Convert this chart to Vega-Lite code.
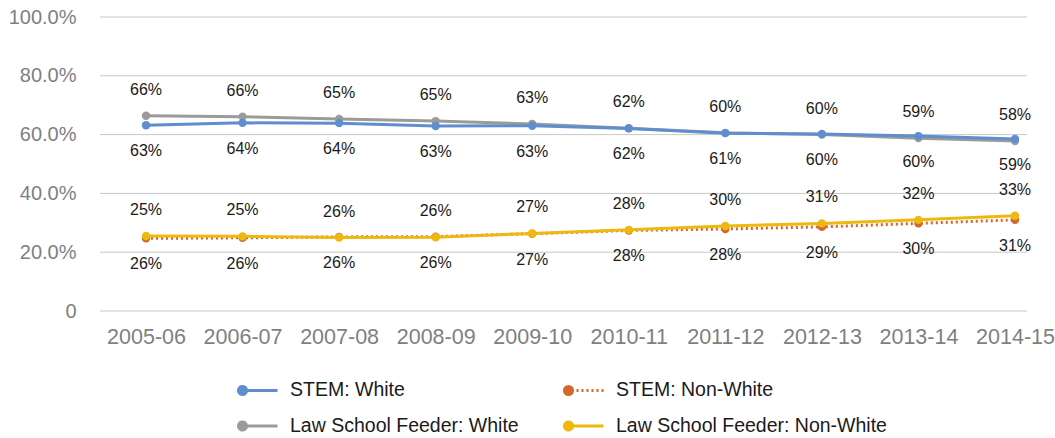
{
  "$schema": "https://vega.github.io/schema/vega-lite/v6.json",
  "width": 927,
  "height": 294,
  "autosize": {"type": "none"},
  "padding": {"left": 100, "top": 17, "right": 28, "bottom": 127},
  "background": "white",
  "config": {
    "view": {"stroke": null},
    "font": "Liberation Sans"
  },
  "datasets": {
    "grid": [{"tick": 0}, {"tick": 0.2}, {"tick": 0.4}, {"tick": 0.6}, {"tick": 0.8}, {"tick": 1}],
    "main": [
      {"year": "2005-06", "series": "STEM: White", "value": 0.632, "label": 0.63},
      {"year": "2006-07", "series": "STEM: White", "value": 0.640, "label": 0.64},
      {"year": "2007-08", "series": "STEM: White", "value": 0.639, "label": 0.64},
      {"year": "2008-09", "series": "STEM: White", "value": 0.629, "label": 0.63},
      {"year": "2009-10", "series": "STEM: White", "value": 0.630, "label": 0.63},
      {"year": "2010-11", "series": "STEM: White", "value": 0.621, "label": 0.62},
      {"year": "2011-12", "series": "STEM: White", "value": 0.605, "label": 0.61},
      {"year": "2012-13", "series": "STEM: White", "value": 0.602, "label": 0.60},
      {"year": "2013-14", "series": "STEM: White", "value": 0.595, "label": 0.60},
      {"year": "2014-15", "series": "STEM: White", "value": 0.585, "label": 0.59},
      {"year": "2005-06", "series": "Law School Feeder: White", "value": 0.664, "label": 0.66},
      {"year": "2006-07", "series": "Law School Feeder: White", "value": 0.661, "label": 0.66},
      {"year": "2007-08", "series": "Law School Feeder: White", "value": 0.653, "label": 0.65},
      {"year": "2008-09", "series": "Law School Feeder: White", "value": 0.646, "label": 0.65},
      {"year": "2009-10", "series": "Law School Feeder: White", "value": 0.636, "label": 0.63},
      {"year": "2010-11", "series": "Law School Feeder: White", "value": 0.622, "label": 0.62},
      {"year": "2011-12", "series": "Law School Feeder: White", "value": 0.606, "label": 0.60},
      {"year": "2012-13", "series": "Law School Feeder: White", "value": 0.600, "label": 0.60},
      {"year": "2013-14", "series": "Law School Feeder: White", "value": 0.588, "label": 0.59},
      {"year": "2014-15", "series": "Law School Feeder: White", "value": 0.578, "label": 0.58},
      {"year": "2005-06", "series": "STEM: Non-White", "value": 0.247, "label": 0.26},
      {"year": "2006-07", "series": "STEM: Non-White", "value": 0.249, "label": 0.26},
      {"year": "2007-08", "series": "STEM: Non-White", "value": 0.252, "label": 0.26},
      {"year": "2008-09", "series": "STEM: Non-White", "value": 0.253, "label": 0.26},
      {"year": "2009-10", "series": "STEM: Non-White", "value": 0.263, "label": 0.27},
      {"year": "2010-11", "series": "STEM: Non-White", "value": 0.274, "label": 0.28},
      {"year": "2011-12", "series": "STEM: Non-White", "value": 0.279, "label": 0.28},
      {"year": "2012-13", "series": "STEM: Non-White", "value": 0.286, "label": 0.29},
      {"year": "2013-14", "series": "STEM: Non-White", "value": 0.298, "label": 0.30},
      {"year": "2014-15", "series": "STEM: Non-White", "value": 0.310, "label": 0.31},
      {"year": "2005-06", "series": "Law School Feeder: Non-White", "value": 0.255, "label": 0.25},
      {"year": "2006-07", "series": "Law School Feeder: Non-White", "value": 0.254, "label": 0.25},
      {"year": "2007-08", "series": "Law School Feeder: Non-White", "value": 0.250, "label": 0.26},
      {"year": "2008-09", "series": "Law School Feeder: Non-White", "value": 0.251, "label": 0.26},
      {"year": "2009-10", "series": "Law School Feeder: Non-White", "value": 0.264, "label": 0.27},
      {"year": "2010-11", "series": "Law School Feeder: Non-White", "value": 0.276, "label": 0.28},
      {"year": "2011-12", "series": "Law School Feeder: Non-White", "value": 0.289, "label": 0.30},
      {"year": "2012-13", "series": "Law School Feeder: Non-White", "value": 0.298, "label": 0.31},
      {"year": "2013-14", "series": "Law School Feeder: Non-White", "value": 0.310, "label": 0.32},
      {"year": "2014-15", "series": "Law School Feeder: Non-White", "value": 0.324, "label": 0.33}
    ]
  },
  "layer": [
    {
      "data": {"name": "grid"},
      "mark": {"type": "rule", "color": "#c8c8c8", "strokeWidth": 1},
      "encoding": {
        "y": {
          "field": "tick", "type": "quantitative",
          "scale": {"domain": [0, 1], "nice": false},
          "axis": {"title": null, "values": [0, 0.2, 0.4, 0.6, 0.8, 1],
                   "labelExpr": "datum.value == 0 ? '0' : format(datum.value, '.1%')",
                   "domain": false, "ticks": false, "grid": false, "labelFontSize": 20, "labelColor": "#7f7f7f",
                   "labelPadding": 24}
        }
      }
    },
    {
      "data": {"name": "main"},
      "encoding": {
        "x": {
          "field": "year", "type": "ordinal",
          "scale": {"type": "point", "range": [46, 915], "padding": 0},
          "axis": {"title": null, "labelAngle": 0, "domain": false, "ticks": false, "grid": false,
                   "labelFontSize": 21.5, "labelColor": "#7f7f7f", "labelPadding": 15}
        },
        "y": {"field": "value", "type": "quantitative"}
      },
      "layer": [
        {
          "transform": [{"filter": {"field": "series", "equal": "Law School Feeder: White"}}],
          "mark": {"type": "line", "strokeWidth": 3},
          "encoding": {
            "color": {
              "field": "series", "type": "nominal",
              "scale": {"domain": ["STEM: White", "STEM: Non-White", "Law School Feeder: White", "Law School Feeder: Non-White"],
                        "range": ["#5E8ECF", "#D2692B", "#9B9B9B", "#EFB80F"]},
              "legend": {
                "title": null, "orient": "none", "legendX": 141, "legendY": 354,
                "direction": "horizontal", "columns": 2, "padding": 0,
                "symbolType": "M1,0L-0.77,0A0.23,0.23 0 1,1 -1.23,0A0.23,0.23 0 1,1 -0.77,0",
                "symbolSize": 1225, "symbolStrokeWidth": 3,
                "labelFontSize": 19.5, "labelFont": "Liberation Sans", "labelColor": "#1a1a1a",
                "labelOffset": 11, "columnPadding": 39, "rowPadding": 6, "labelLimit": 400,
                "encode": {
                  "symbols": {
                    "update": {
                      "fill": {"scale": "color", "field": "value"},
                      "fillOpacity": {"value": 1},
                      "strokeDash": {"signal": "datum.value === 'STEM: Non-White' ? [2,3,2,3,2,3,2,3,2,3,2,3,27,1] : [1,0]"}
                    }
                  }
                }
              }
            }
          }
        },
        {
          "transform": [{"filter": {"field": "series", "equal": "Law School Feeder: White"}}],
          "mark": {"type": "point", "filled": true, "size": 70, "opacity": 1},
          "encoding": {"color": {"field": "series", "type": "nominal"}}
        },
        {
          "transform": [{"filter": {"field": "series", "equal": "STEM: Non-White"}}],
          "mark": {"type": "line", "strokeWidth": 3, "color": "#D2692B", "strokeDash": [2, 3]},
          "encoding": {}
        },
        {
          "transform": [{"filter": {"field": "series", "equal": "STEM: Non-White"}}],
          "mark": {"type": "point", "filled": true, "size": 70, "opacity": 1},
          "encoding": {"color": {"field": "series", "type": "nominal"}}
        },
        {
          "transform": [{"filter": {"field": "series", "oneOf": ["STEM: White", "Law School Feeder: Non-White"]}}],
          "mark": {"type": "line", "strokeWidth": 3},
          "encoding": {"color": {"field": "series", "type": "nominal"}}
        },
        {
          "transform": [{"filter": {"field": "series", "oneOf": ["STEM: White", "Law School Feeder: Non-White"]}}],
          "mark": {"type": "point", "filled": true, "size": 70, "opacity": 1},
          "encoding": {"color": {"field": "series", "type": "nominal"}}
        },
        {
          "transform": [{"filter": {"field": "series", "oneOf": ["Law School Feeder: White", "Law School Feeder: Non-White"]}}],
          "mark": {"type": "text", "dy": -26, "fontSize": 16, "font": "Liberation Sans", "color": "#1a1a1a", "baseline": "middle"},
          "encoding": {"text": {"field": "label", "type": "quantitative", "format": ".0%"}}
        },
        {
          "transform": [{"filter": {"field": "series", "oneOf": ["STEM: White", "STEM: Non-White"]}}],
          "mark": {"type": "text", "dy": 26, "fontSize": 16, "font": "Liberation Sans", "color": "#1a1a1a", "baseline": "middle"},
          "encoding": {"text": {"field": "label", "type": "quantitative", "format": ".0%"}}
        }
      ]
    }
  ]
}
